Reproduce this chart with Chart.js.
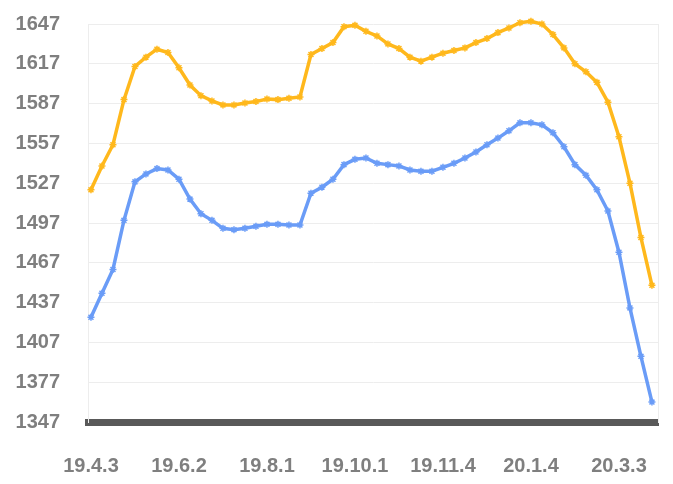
<!DOCTYPE html>
<html>
<head>
<meta charset="utf-8">
<script src="https://cdn.jsdelivr.net/npm/chart.js@4/dist/chart.umd.min.js"></script>
<style>
  html, body { margin: 0; padding: 0; background: #ffffff; }
  #wrap { width: 673px; height: 484px; }
</style>
</head>
<body>
<div id="wrap"><canvas id="c" width="673" height="484"></canvas></div>
<script>
// X tick labels and the point index each one sits on
const xLabels = ['19.4.3', '19.6.2', '19.8.1', '19.10.1', '19.11.4', '20.1.4', '20.3.3'];
const xLabelIndex = [0, 8, 16, 24, 32, 40, 48];

// Y tick values
const yTicks = [1347, 1377, 1407, 1437, 1467, 1497, 1527, 1557, 1587, 1617, 1647];

// Series values
const orangeValues = [
  1522, 1540, 1556, 1590, 1615, 1622, 1628, 1625.5, 1614, 1601,
  1593, 1589, 1586, 1586, 1587.5, 1588.5, 1590.5, 1590, 1591, 1592,
  1624, 1628.5, 1633, 1645, 1646, 1641.5, 1638, 1632, 1628.5, 1622,
  1619, 1622, 1625, 1627, 1629, 1633, 1636, 1640.5, 1644, 1648,
  1649, 1647, 1639, 1629, 1617, 1611, 1603, 1588, 1562, 1527,
  1486, 1450
];
const blueValues = [
  1426, 1444, 1462, 1499, 1528, 1534, 1538, 1537, 1530, 1515,
  1504, 1499, 1493, 1492, 1493, 1494.5, 1496, 1496, 1495.5, 1495.5,
  1519.5, 1524, 1530, 1541, 1545, 1546, 1542, 1541, 1540, 1537,
  1536, 1536, 1539, 1542, 1546, 1550.5, 1556, 1561, 1566.5, 1572.5,
  1572.5, 1571, 1565, 1554.5, 1541, 1533, 1522, 1506, 1475, 1433,
  1396.5, 1362
];

const toPoints = arr => arr.map((v, i) => ({ x: i, y: v }));

const tickFont = { family: 'Liberation Sans', size: 20, weight: 'bold' };
const tickColor = '#7F7F7F';

new Chart(document.getElementById('c'), {
  type: 'line',
  data: {
    datasets: [
      {
        data: toPoints(orangeValues),
        borderColor: '#FFB81C',
        backgroundColor: '#FFB81C',
        borderWidth: 3.5,
        pointStyle: 'star',
        pointRadius: 3.5,
        pointBorderWidth: 1.5,
        tension: 0,
        clip: false
      },
      {
        data: toPoints(blueValues),
        borderColor: '#6A9CF7',
        backgroundColor: '#6A9CF7',
        borderWidth: 3.5,
        pointStyle: 'star',
        pointRadius: 3.5,
        pointBorderWidth: 1.5,
        tension: 0,
        clip: false
      }
    ]
  },
  options: {
    responsive: false,
    animation: false,
    devicePixelRatio: 1,
    layout: { padding: { top: 24, right: 15, bottom: 0, left: 0 } },
    plugins: { legend: { display: false }, tooltip: { enabled: false } },
    scales: {
      x: {
        type: 'linear',
        min: -0.27,
        max: 51.55,
        grid: { display: true, drawOnChartArea: false, drawTicks: true, tickLength: 32, tickColor: 'rgba(0,0,0,0)', color: 'rgba(0,0,0,0)' },
        border: { display: true, color: '#595959', width: 7 },
        afterBuildTicks: s => { s.ticks = xLabelIndex.map(v => ({ value: v })); },
        afterFit: s => { s.height = 62; },
        ticks: {
          includeBounds: false,
          autoSkip: false,
          maxRotation: 0,
          padding: 0,
          color: tickColor,
          font: tickFont,
          callback: v => { const k = xLabelIndex.indexOf(v); return k >= 0 ? xLabels[k] : ''; }
        }
      },
      y: {
        min: 1347,
        max: 1647,
        afterBuildTicks: s => { s.ticks = yTicks.map(v => ({ value: v })); },
        afterFit: s => { s.width = 88; },
        grid: { color: '#EDEDED', lineWidth: 1, drawTicks: true, tickLength: 28, tickColor: 'rgba(0,0,0,0)' },
        border: { display: true, color: '#EDEDED', width: 1 },
        ticks: { padding: 0, color: tickColor, font: tickFont, callback: v => String(v) }
      },
      y2: {
        position: 'right',
        min: 1347,
        max: 1647,
        afterFit: s => { s.width = 0; },
        grid: { display: false, drawTicks: false },
        border: { display: true, color: '#EDEDED', width: 1 },
        ticks: { display: false }
      }
    }
  }
});
</script>
</body>
</html>
